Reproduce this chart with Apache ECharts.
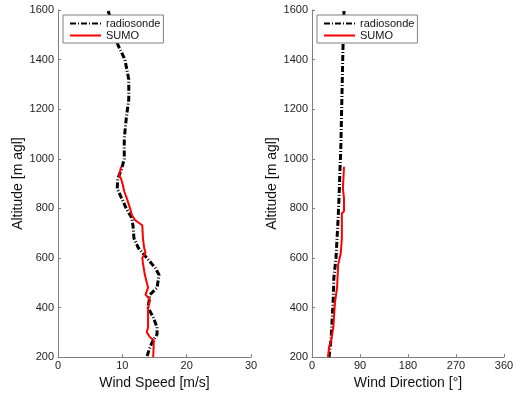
<!DOCTYPE html>
<html>
<head>
<meta charset="utf-8">
<script src="https://cdn.jsdelivr.net/npm/echarts@6/dist/echarts.min.js"></script>
<style>
  html, body { margin: 0; padding: 0; background: #fff; }
  #chart { width: 517px; height: 395px; }
</style>
</head>
<body>
<div id="chart"></div>
<script>
// altitude ticks
const altTicks = [200, 400, 600, 800, 1000, 1200, 1400, 1600]

// wind speed, radiosonde
const radioSpeedAlt = [1596, 1540, 1460, 1400, 1320, 1240, 1160, 1080, 1000, 960, 920, 880, 840, 800, 760, 720, 680, 640, 600, 560, 532, 480, 452, 400, 360, 320, 292, 268, 240, 200]
const radioSpeed = [7.8, 8.5, 9.3, 10.4, 11.0, 11.0, 10.6, 10.3, 10.3, 9.9, 9.3, 9.2, 9.9, 10.6, 11.5, 11.7, 11.8, 12.5, 13.8, 15.1, 15.7, 15.4, 14.3, 14.0, 14.8, 15.4, 15.4, 14.8, 14.3, 13.8]

// wind speed, SUMO
const sumoSpeedAlt = [968, 932, 920, 892, 868, 840, 800, 772, 752, 732, 680, 640, 620, 600, 580, 532, 480, 452, 432, 400, 320, 300, 280, 268, 200]
const sumoSpeed = [9.8, 9.5, 9.8, 10.1, 10.3, 10.7, 11.2, 11.5, 12.0, 13.1, 13.2, 13.4, 13.6, 13.1, 13.2, 13.5, 14.0, 13.6, 14.3, 14.0, 14.0, 13.8, 14.3, 14.9, 14.8]

// wind direction, radiosonde
const radioDirAlt = [1596, 1440, 1240, 1040, 960, 860, 760, 680, 600, 520, 440, 360, 280, 200]
const radioDir = [60, 58, 56, 54, 52.5, 51, 49, 47, 45, 41, 40, 38, 36, 32]

// wind direction, SUMO
const sumoDirAlt = [968, 880, 840, 788, 780, 680, 620, 572, 480, 420, 320, 268, 240, 200]
const sumoDir = [60, 58, 60, 60, 56, 56, 54, 49, 47, 43, 40, 36, 32, 30]

const pairs = (xs, ys) => xs.map((x, i) => [x, ys[i]])

const chart = echarts.init(document.getElementById('chart'))

const font = 'Arial, "Liberation Sans", sans-serif'
const axisLine = { show: true, lineStyle: { color: '#808080', width: 1 } }
const axisTick = { show: true, inside: true, length: 3, lineStyle: { color: '#808080' } }
const axisLabel = { color: '#222', fontSize: 11, fontFamily: font, formatter: v => String(v) }
const nameStyle = { color: '#111', fontSize: 14, fontFamily: font }

function xAxis(idx, max, interval) {
  return {
    type: 'value', gridIndex: idx, min: 0, max: max, interval: interval,
    name: idx === 0 ? 'Wind Speed [m/s]' : 'Wind Direction [°]',
    nameLocation: 'middle', nameGap: 16, nameTextStyle: nameStyle,
    axisLine: axisLine, axisTick: axisTick,
    axisLabel: Object.assign({}, axisLabel, { margin: 3 }),
    splitLine: { show: false }
  }
}

function yAxis(idx) {
  return {
    type: 'value', gridIndex: idx, min: altTicks[0], max: altTicks[altTicks.length - 1], interval: 200,
    name: 'Altitude [m agl]', nameLocation: 'middle', nameGap: 31, nameRotate: 90,
    nameTextStyle: nameStyle,
    axisLine: axisLine, axisTick: axisTick,
    axisLabel: Object.assign({}, axisLabel, { margin: 4 }),
    splitLine: { show: false }
  }
}

function legend(left) {
  return {
    left: left, top: 15, orient: 'vertical',
    data: ['radiosonde', 'SUMO'],
    backgroundColor: '#fff', borderColor: '#808080', borderWidth: 1,
    padding: [3, 3, 2, 6], itemGap: 1, itemWidth: 31, itemHeight: 12,
    itemStyle: { opacity: 0 },
    textStyle: { color: '#111', fontSize: 11, fontFamily: font },
    selectedMode: false
  }
}

const radioStyle = { color: '#000', width: 3, type: [6, 2, 1, 2] }
const sumoStyle = { color: '#ff0000', width: 2 }

function line(name, data, idx, style) {
  return {
    name: name, type: 'line', xAxisIndex: idx, yAxisIndex: idx,
    data: data, showSymbol: false, symbol: 'none',
    itemStyle: { color: style.color },
    lineStyle: style, animation: false
  }
}

const option = {
  backgroundColor: '#fff',
  grid: [
    { left: 58, right: 266, top: 10, bottom: 35 },
    { left: 312, right: 13, top: 10, bottom: 35 }
  ],
  legend: [legend(63), legend(317)],
  xAxis: [xAxis(0, 30, 10), xAxis(1, 360, 90)],
  yAxis: [yAxis(0), yAxis(1)],
  series: [
    line('radiosonde', pairs(radioSpeed, radioSpeedAlt), 0, radioStyle),
    line('SUMO', pairs(sumoSpeed, sumoSpeedAlt), 0, sumoStyle),
    line('radiosonde', pairs(radioDir, radioDirAlt), 1, radioStyle),
    line('SUMO', pairs(sumoDir, sumoDirAlt), 1, sumoStyle)
  ]
}

chart.setOption(option)
</script>
</body>
</html>
